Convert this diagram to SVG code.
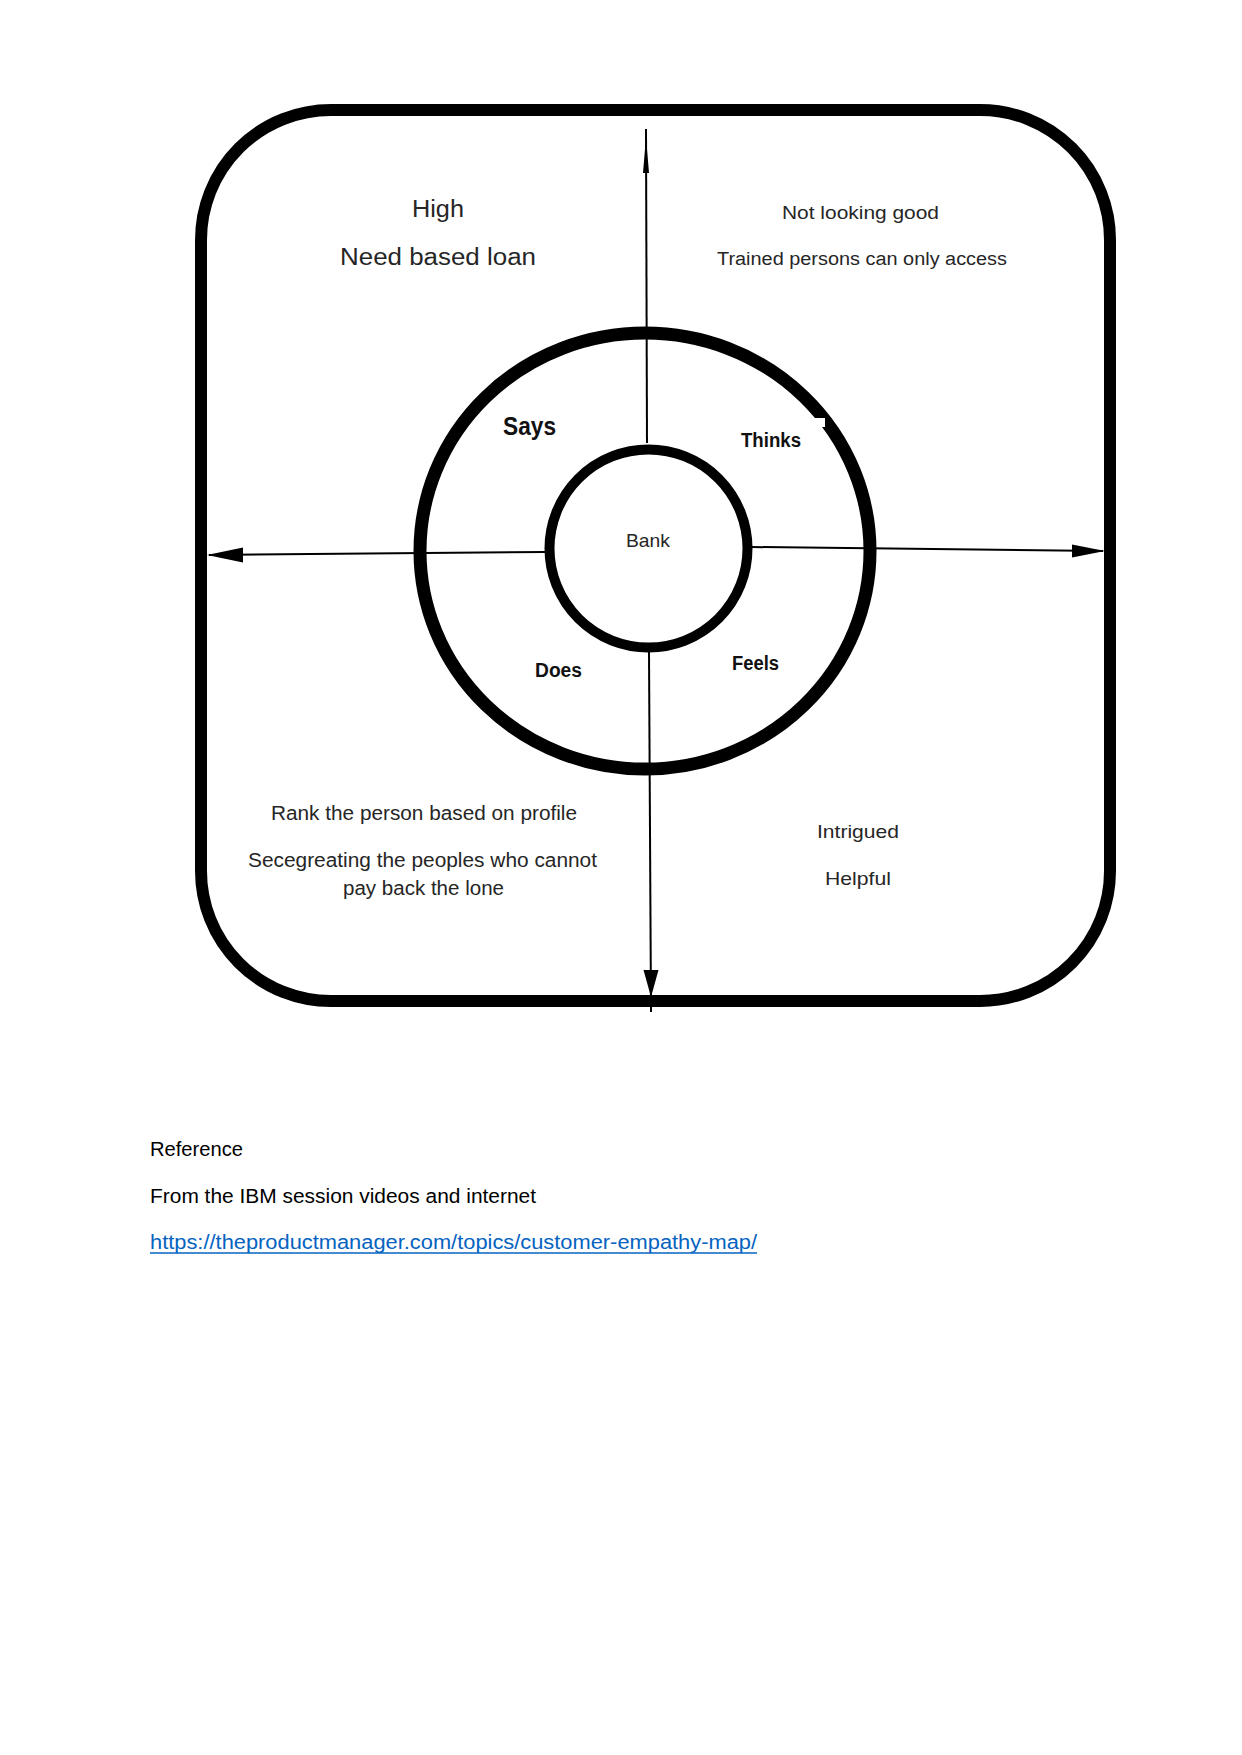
<svg xmlns="http://www.w3.org/2000/svg" width="1242" height="1755" viewBox="0 0 1242 1755">
  <style>
    .t { font-family: "Liberation Sans", "Open Sans", Arial, sans-serif; fill: #262626; text-anchor: middle; }
    .b { font-weight: bold; fill: #111; }
    .ref { font-family: "Liberation Sans", Arial, sans-serif; fill: #000; font-size: 20px; }
    .ring { fill: none; stroke: #000; }
    .axis { stroke: #000; stroke-width: 2; fill: none; }
    .head { fill: #000; }
  </style>

  <rect width="1242" height="1755" fill="#fff"/>

  <!-- outer frame -->
  <g id="frame">
    <rect x="201" y="110" width="909" height="891" rx="130" ry="130" class="ring" stroke-width="12"/>
  </g>

  <!-- axes with arrowheads -->
  <g id="connectors">
    <line class="axis" x1="646" y1="129" x2="647" y2="443"/>
    <polygon class="head" points="646,137 643,173 649,173"/>
    <line class="axis" x1="649" y1="652" x2="651" y2="1012"/>
    <polygon class="head" points="651,997 643.5,970 658.5,970"/>
    <line class="axis" x1="545" y1="552" x2="209" y2="555"/>
    <polygon class="head" points="207,555 243,547.5 243,562.5"/>
    <line class="axis" x1="752" y1="547" x2="1103" y2="551"/>
    <polygon class="head" points="1105,551 1072,544.5 1072,557.5"/>
  </g>

  <!-- middle ring -->
  <g id="ring-outer">
    <ellipse cx="645" cy="551" rx="225" ry="218" class="ring" stroke-width="13"/>
    <rect x="812" y="418" width="13" height="9" fill="#fff"/>
  </g>

  <!-- centre ring -->
  <g id="ring-inner">
    <circle cx="648.5" cy="548.5" r="99" class="ring" stroke-width="10" fill="#fff"/>
    <text class="t" x="648" y="547" font-size="19" textLength="44" lengthAdjust="spacingAndGlyphs">Bank</text>
  </g>

  <!-- quadrant labels -->
  <g id="says">
    <text class="t b" x="529.5" y="435" font-size="25" textLength="53" lengthAdjust="spacingAndGlyphs">Says</text>
  </g>
  <g id="thinks">
    <text class="t b" x="771" y="447" font-size="19.5" textLength="60" lengthAdjust="spacingAndGlyphs">Thinks</text>
  </g>
  <g id="does">
    <text class="t b" x="558.5" y="677" font-size="19.5" textLength="47" lengthAdjust="spacingAndGlyphs">Does</text>
  </g>
  <g id="feels">
    <text class="t b" x="755.5" y="670" font-size="19.5" textLength="47" lengthAdjust="spacingAndGlyphs">Feels</text>
  </g>

  <!-- quadrant notes -->
  <g id="says-notes">
    <text class="t" x="438" y="217" font-size="23" textLength="52" lengthAdjust="spacingAndGlyphs">High</text>
    <text class="t" x="438" y="265" font-size="23" textLength="196" lengthAdjust="spacingAndGlyphs">Need based loan</text>
  </g>
  <g id="thinks-notes">
    <text class="t" x="860.5" y="219" font-size="18" textLength="157" lengthAdjust="spacingAndGlyphs">Not looking good</text>
    <text class="t" x="862" y="265" font-size="18" textLength="290" lengthAdjust="spacingAndGlyphs">Trained persons can only access</text>
  </g>
  <g id="does-notes">
    <text class="t" x="424" y="820" font-size="19.5" textLength="306" lengthAdjust="spacingAndGlyphs">Rank the person based on profile</text>
    <text class="t" x="422.5" y="867" font-size="19.5" textLength="349" lengthAdjust="spacingAndGlyphs">Secegreating the peoples who cannot</text>
    <text class="t" x="423.5" y="895" font-size="19.5" textLength="161" lengthAdjust="spacingAndGlyphs">pay back the lone</text>
  </g>
  <g id="feels-notes">
    <text class="t" x="858" y="838" font-size="19" textLength="82" lengthAdjust="spacingAndGlyphs">Intrigued</text>
    <text class="t" x="858" y="885" font-size="19" textLength="66" lengthAdjust="spacingAndGlyphs">Helpful</text>
  </g>

  <!-- references below the map -->
  <g id="references">
    <text class="ref" x="150" y="1156" textLength="93" lengthAdjust="spacingAndGlyphs">Reference</text>
    <text class="ref" x="150" y="1203" textLength="386" lengthAdjust="spacingAndGlyphs">From the IBM session videos and internet</text>
    <text class="ref" x="150" y="1249" style="fill:#0563C1" textLength="607" lengthAdjust="spacingAndGlyphs">https://theproductmanager.com/topics/customer-empathy-map/</text>
    <line x1="150" y1="1253" x2="757" y2="1253" stroke="#0563C1" stroke-width="1.4"/>
  </g>
</svg>
